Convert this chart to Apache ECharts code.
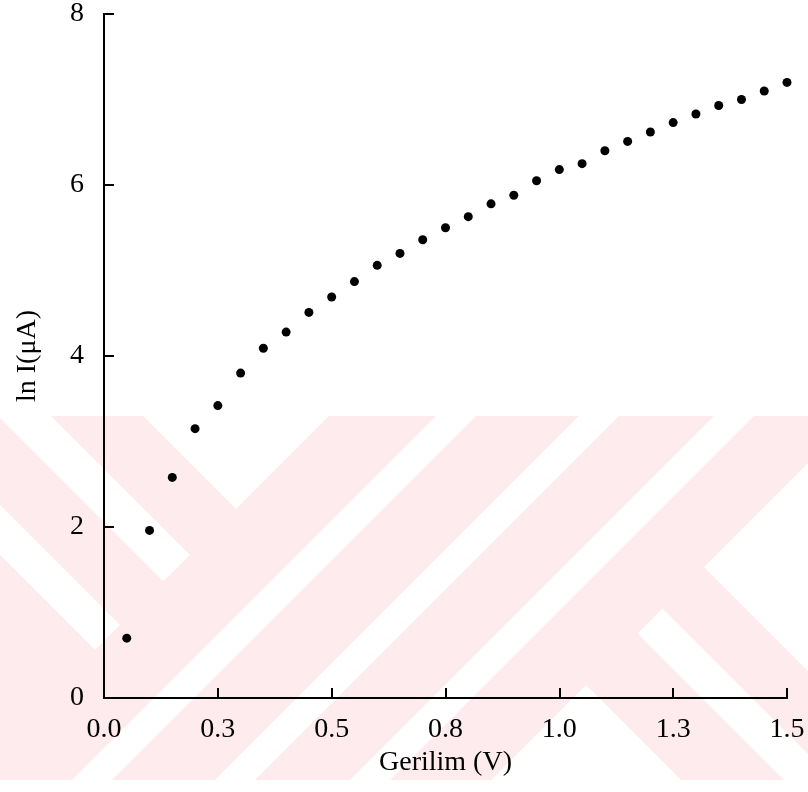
<!DOCTYPE html>
<html>
<head>
<meta charset="utf-8">
<title>ln I – Gerilim</title>
<script src="https://cdn.jsdelivr.net/npm/echarts@6/dist/echarts.min.js"></script>
<style>
  html, body { margin: 0; padding: 0; background: #fff; }
  #chart { width: 808px; height: 792px; }
</style>
</head>
<body>
<div id="chart"></div>
<script>
// Measured forward-bias points
const voltage = [0.05, 0.10, 0.15, 0.20, 0.25, 0.30, 0.35, 0.40, 0.45, 0.50,
                 0.55, 0.60, 0.65, 0.70, 0.75, 0.80, 0.85, 0.90, 0.95, 1.00,
                 1.05, 1.10, 1.15, 1.20, 1.25, 1.30, 1.35, 1.40, 1.45, 1.50];
const lnCurrent = [0.70, 1.96, 2.58, 3.15, 3.42, 3.80, 4.09, 4.28, 4.51, 4.69,
                   4.87, 5.06, 5.20, 5.36, 5.50, 5.63, 5.78, 5.88, 6.05, 6.18,
                   6.25, 6.40, 6.51, 6.62, 6.73, 6.83, 6.93, 7.00, 7.10, 7.20];

// Axis tick labels
const xTickLabels = ['0.0', '0.3', '0.5', '0.8', '1.0', '1.3', '1.5'];
const yTickLabels = ['0', '2', '4', '6', '8'];

const W = 808, H = 792;
const FONT = '"Liberation Serif", "Times New Roman", serif';
const FONT_SIZE = 28;

// ---- faint diagonal emblem in the lower part of the page ----
const bandTop = 416, bandBottom = 780;
function clip(poly, a, b, c) {
  const f = p => a * p[0] + b * p[1] + c;
  const out = [];
  for (let i = 0; i < poly.length; i++) {
    const cur = poly[i], prev = poly[(i + poly.length - 1) % poly.length];
    const fc = f(cur), fp = f(prev);
    const cross = () => {
      const t = fp / (fp - fc);
      return [prev[0] + t * (cur[0] - prev[0]), prev[1] + t * (cur[1] - prev[1])];
    };
    if (fc >= 0) { if (fp < 0) out.push(cross()); out.push(cur); }
    else if (fp >= 0) out.push(cross());
  }
  return out;
}
// half-plane helpers
const dMax = k => [1, -1, k];     // y - x <= k
const dMin = k => [-1, 1, -k];    // y - x >= k
const sMax = k => [-1, -1, k];    // x + y <= k
const sMin = k => [1, 1, -k];     // x + y >= k
const gaps = [
  [dMax(273), sMax(745)],
  [dMin(365), dMax(418), sMax(745)],
  [dMin(505), dMax(555), sMax(745)],
  [sMin(852), sMax(892)],
  [sMin(995), sMax(1035)],
  [sMin(1130), sMax(1170)],
  [sMin(1271), dMax(-137)],
  [sMin(1271), dMin(-54), dMax(-4)],
  [sMin(1271), dMin(99)]
];
const emblem = [{
  type: 'rect', z: -10, silent: true,
  shape: { x: 0, y: bandTop, width: W, height: bandBottom - bandTop },
  style: { fill: '#fdebee' }
}];
gaps.forEach(planes => {
  let poly = [[0, bandTop], [W, bandTop], [W, bandBottom], [0, bandBottom]];
  planes.forEach(p => { poly = clip(poly, p[0], p[1], p[2]); });
  if (poly.length > 2) {
    emblem.push({ type: 'polygon', z: -9, silent: true,
      shape: { points: poly }, style: { fill: '#ffffff' } });
  }
});

const chart = echarts.init(document.getElementById('chart'), null, { renderer: 'canvas' });

const axisLine = { show: true, lineStyle: { color: '#000', width: 2 } };
const labelStyle = { color: '#000', fontFamily: FONT, fontSize: FONT_SIZE };
const nameStyle = { color: '#000', fontFamily: FONT, fontSize: FONT_SIZE };

chart.setOption({
  backgroundColor: '#fff',
  animation: false,
  graphic: emblem,
  grid: {
    left: 104, top: 14, right: 21, bottom: 94,
    containLabel: false, outerBoundsMode: 'none'
  },
  xAxis: [{
    type: 'value', min: 0, max: 1.5, interval: 0.25,
    name: 'Gerilim (V)', nameLocation: 'middle', nameGap: 48,
    nameTextStyle: nameStyle,
    axisLine: axisLine,
    axisTick: { show: true, inside: true, length: 10, lineStyle: { color: '#000', width: 2 } },
    axisLabel: Object.assign({ margin: 18,
      formatter: v => xTickLabels[Math.round(v / 0.25)] }, labelStyle),
    splitLine: { show: false }
  }, {
    type: 'value', position: 'top', min: 0, max: 1.5,
    axisLine: axisLine, axisTick: { show: false }, axisLabel: { show: false },
    splitLine: { show: false }
  }],
  yAxis: [{
    type: 'value', min: 0, max: 8, interval: 2,
    name: 'ln I(\u03bcA)', nameLocation: 'middle', nameGap: 62, nameRotate: 90,
    nameTextStyle: nameStyle,
    axisLine: axisLine,
    axisTick: { show: true, inside: true, length: 10, lineStyle: { color: '#000', width: 2 } },
    axisLabel: Object.assign({ margin: 20,
      formatter: v => yTickLabels[Math.round(v / 2)] }, labelStyle),
    splitLine: { show: false }
  }, {
    type: 'value', position: 'right', min: 0, max: 8,
    axisLine: axisLine, axisTick: { show: false }, axisLabel: { show: false },
    splitLine: { show: false }
  }],
  series: [{
    type: 'scatter',
    clip: false,
    symbol: 'circle',
    symbolSize: 9,
    itemStyle: { color: '#000', opacity: 1 },
    data: voltage.map((v, i) => [v, lnCurrent[i]])
  }]
});
</script>
</body>
</html>
